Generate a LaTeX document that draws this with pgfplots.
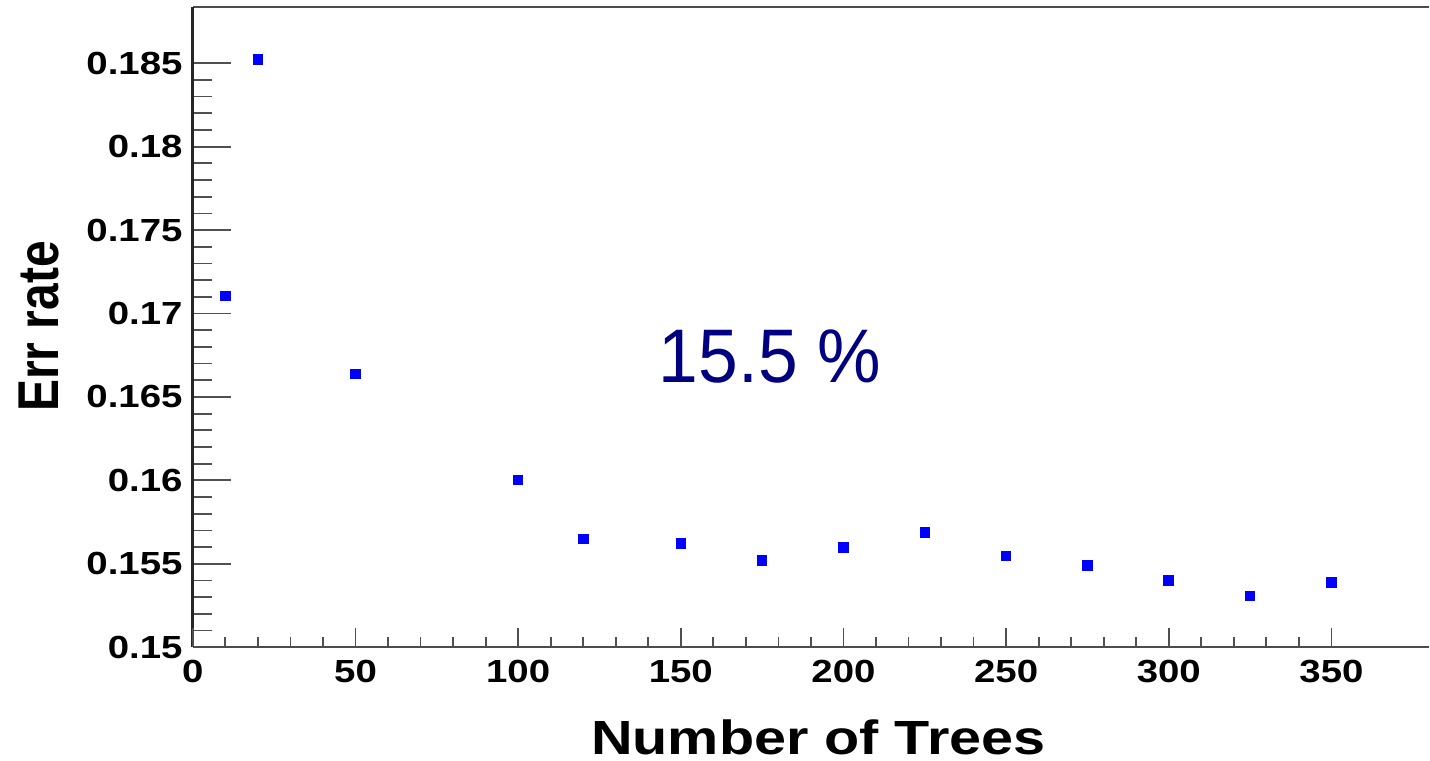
\documentclass[border=0pt]{standalone}
\usepackage{pgfplots}
\pgfplotsset{compat=1.18}
\usetikzlibrary{calc}
\usepackage{fontspec}
\setmainfont{Liberation Sans}
\definecolor{markblue}{RGB}{0,0,255}
\definecolor{annot}{RGB}{0,0,128}
\definecolor{tickgray}{RGB}{80,80,80}
\begin{document}
\begin{tikzpicture}
\pgfplotsset{
  errframe/.style={
    scale only axis, width=618.5pt, height=320.35pt,
    xmin=0, xmax=380, ymin=0.15, ymax=0.18837,
    tick align=inside,
  }
}
% main frame: axis lines, y ticks, labels and the data
\begin{axis}[errframe, name=main,
  axis x line*=box, axis y line*=left,
  every outer x axis line/.append style={line width=1pt, color=black!70},
  every outer y axis line/.append style={line width=1.5pt, color=black!85},
  xtick={0,50,...,350}, minor x tick num=4, xtick pos=bottom,
  xtick style={draw=none},
  ytick={0.15,0.155,...,0.1851}, minor y tick num=4, ytick pos=left,
  ytick style={line width=0.9pt, color=tickgray},
  major tick length=19pt, minor tick length=9.5pt,
  xticklabel={\scalebox{1.2}[1]{\pgfmathprintnumber[assume math mode=true]{\tick}}},
  yticklabel={\scalebox{1.2}[1]{\pgfmathprintnumber[assume math mode=true,fixed,precision=3]{\tick}}},
  every x tick label/.append style={font=\fontsize{16}{19}\selectfont\bfseries, inner sep=0pt, anchor=north, yshift=-6.15pt},
  every y tick label/.append style={font=\fontsize{16}{19}\selectfont\bfseries, inner sep=0pt, anchor=east, xshift=-5pt},
  xlabel={\scalebox{1.2}[1]{Number of Trees}},
  ylabel={\scalebox{1}[1.2]{Err rate}},
  every axis x label/.style={at={(axis description cs:0.506,0)}, anchor=base, yshift=-53.6pt, inner sep=0pt, font=\fontsize{24}{28}\selectfont\bfseries},
  every axis y label/.style={at={(axis description cs:-0.1083,0.501)}, rotate=90, anchor=base, inner sep=0pt, font=\fontsize{24}{28}\selectfont\bfseries},
  clip=false,
]
\addplot[only marks, mark=square*, mark size=2.4pt, color=markblue,
  mark options={draw=markblue, fill=markblue, line width=0pt}] table {
x y
10 0.17104
20 0.18524
50 0.16637
100 0.16003
120 0.15649
150 0.15623
175 0.15521
200 0.15597
225 0.15687
250 0.15547
275 0.15489
300 0.15401
325 0.15308
350 0.15389
};
\node[anchor=base west, inner sep=0pt, text=annot,
  font=\fontsize{38}{40}\selectfont] at (axis cs:143.1,0.16587)
  {\scalebox{0.94}[1]{15.5 \%}};
\end{axis}
% shorter tick marks along the x axis
\begin{axis}[errframe,
  hide y axis,
  axis x line*=bottom,
  x axis line style={draw=none},
  xtick={0,50,...,350}, minor x tick num=4, xticklabels={},
  xtick style={line width=0.9pt, color=tickgray},
  major tick length=9.5pt, minor tick length=5pt,
]
\end{axis}
\path ($(main.south west)+(-96.5pt,-56.65pt)$) rectangle ($(main.north east)+(0,3.5pt)$);
\end{tikzpicture}
\end{document}
